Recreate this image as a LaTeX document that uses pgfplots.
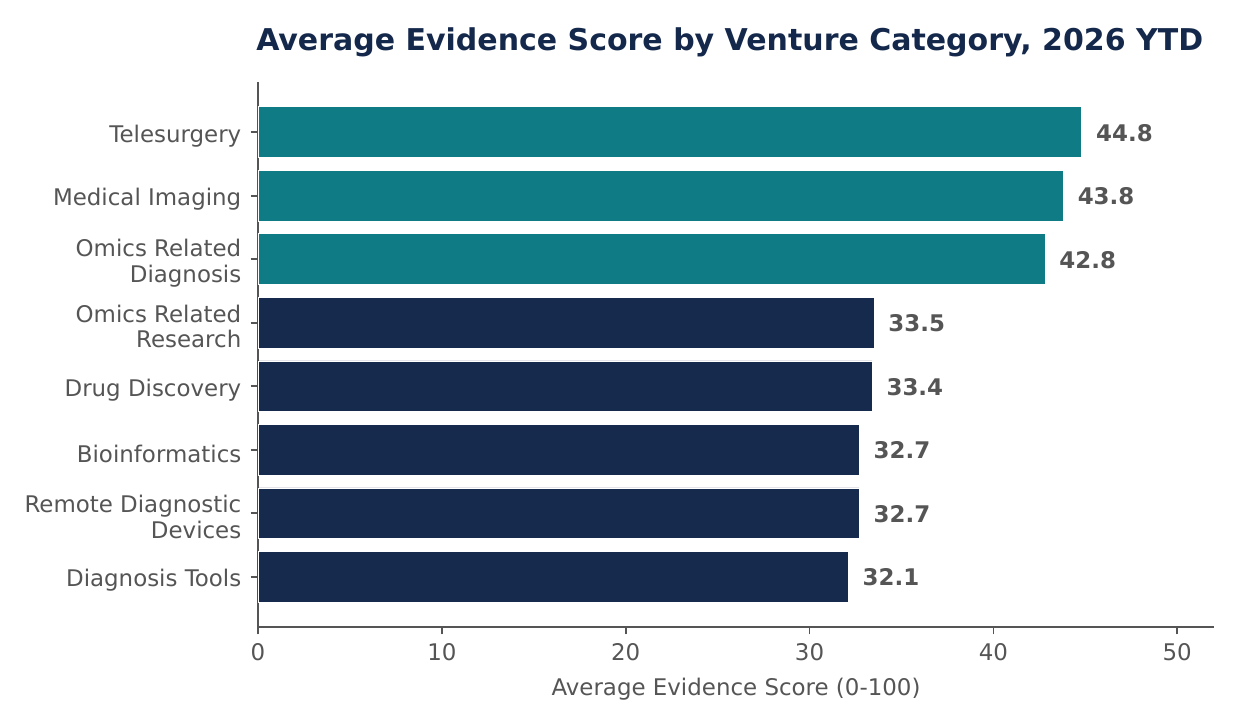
\documentclass[border=0pt]{standalone}
\usepackage{fontspec}
\setmainfont{DejaVu Sans}
\usepackage{pgfplots}
\pgfplotsset{compat=1.18}
\definecolor{teal1}{HTML}{0F7B85}
\definecolor{navy1}{HTML}{152A4C}
\definecolor{titlec}{HTML}{14284B}
\definecolor{txt}{HTML}{555555}
\begin{document}
\begin{tikzpicture}
\useasboundingbox (0,0) rectangle (595.2pt,347.52pt);
\begin{axis}[
 at={(123.84pt,46.56pt)}, anchor=south west,
 scale only axis, width=458.88pt, height=261.6pt,
 xbar, bar width=0.8, bar shift=0pt,
 xmin=0, xmax=52, ymin=-0.79, ymax=7.79,
 axis lines=left, axis line style={-, draw=txt, line width=0.8pt},
 tick align=outside, major tick length=3.5pt,
 tick style={draw=txt, line width=0.8pt},
 ytick={0,...,7},
 yticklabels={Diagnosis Tools, {Remote Diagnostic\\Devices}, Bioinformatics, Drug Discovery, {Omics Related\\Research}, {Omics Related\\Diagnosis}, Medical Imaging, Telesurgery},
 yticklabel style={align=right, font=\fontsize{11}{12.3}\selectfont, text=txt, xshift=-1pt, yshift=-1.8pt},
 xtick={0,10,...,50},
 xticklabel style={font=\fontsize{11}{13}\selectfont, text=txt, yshift=-1pt},
 /pgf/number format/assume math mode=true,
 xlabel={Average Evidence Score (0-100)},
 xlabel style={font=\fontsize{11}{13}\selectfont, text=txt, yshift=-1.5pt},
 title={Average Evidence Score by Venture Category, 2026 YTD},
 title style={font=\bfseries\fontsize{14.4}{17}\selectfont, text=titlec, xshift=-3pt, yshift=2.5pt},
 point meta=x,
 nodes near coords={\pgfmathprintnumber[fixed,precision=1,fixed zerofill]{\pgfplotspointmeta}},
 nodes near coords style={font=\bfseries\fontsize{11}{13}\selectfont, text=txt, anchor=west, xshift=3.5pt, yshift=-0.3pt},
]
\addplot[fill=navy1, draw=white, line width=0.3pt] coordinates {(32.1,0) (32.7,1) (32.7,2) (33.4,3) (33.5,4)};
\addplot[fill=teal1, draw=white, line width=0.3pt] coordinates {(42.8,5) (43.8,6) (44.8,7)};
\end{axis}
\end{tikzpicture}
\end{document}
